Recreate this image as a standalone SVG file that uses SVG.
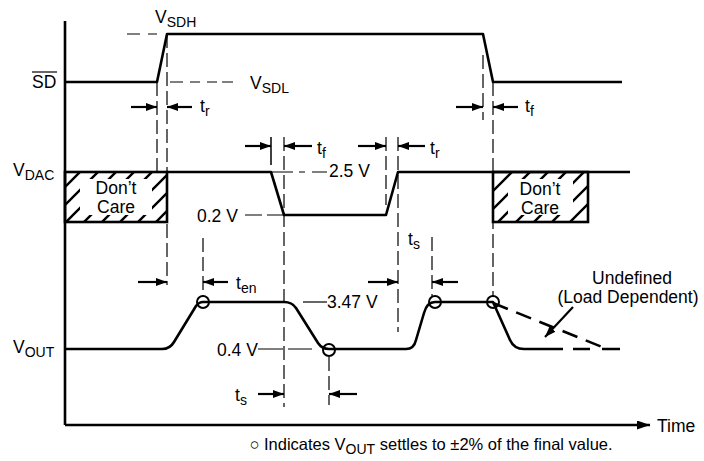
<svg xmlns="http://www.w3.org/2000/svg" width="704" height="461" viewBox="0 0 704 461">
<style>
text{font-family:"Liberation Sans",Arial,Helvetica,sans-serif;font-size:17.5px;fill:#000}
.sub{font-size:14px}
.cap{font-size:16.5px}
.sig{fill:none;stroke:#000;stroke-width:2.6;stroke-linejoin:round}
.axis{fill:none;stroke:#000;stroke-width:2.6}
.vd{fill:none;stroke:#000;stroke-width:1.2;stroke-dasharray:14 5}
.hd{fill:none;stroke:#000;stroke-width:1.2}
.arr{fill:none;stroke:#000;stroke-width:2.2;marker-end:url(#ah)}
.circ{fill:none;stroke:#000;stroke-width:2}
.box{stroke:#000;stroke-width:2.6}
</style>
<defs>
<marker id="ah" markerUnits="userSpaceOnUse" markerWidth="11" markerHeight="8" refX="11" refY="4" orient="auto">
<path d="M0,0 L11,4 L0,8 z" fill="#000"/>
</marker>
<marker id="ah2" markerUnits="userSpaceOnUse" markerWidth="13" markerHeight="9" refX="13" refY="4.5" orient="auto">
<path d="M0,0 L13,4.5 L0,9 z" fill="#000"/>
</marker>
<pattern id="hatch" patternUnits="userSpaceOnUse" width="18" height="18">
<path d="M-4.5,4.5 L4.5,-4.5 M0,18 L18,0 M13.5,22.5 L22.5,13.5" stroke="#000" stroke-width="2.4"/>
</pattern>
</defs>

<g id="axes">
<line class="axis" x1="65" y1="21" x2="65" y2="425"/>
<line x1="65" y1="425" x2="650" y2="425" stroke="#000" stroke-width="2.6" marker-end="url(#ah2)"/>
<text x="657" y="432">Time</text>
</g>

<g id="sd-signal">
<line x1="32" y1="72" x2="57" y2="72" stroke="#000" stroke-width="1.2"/>
<text x="32" y="88">SD</text>
<path class="sig" d="M65,82 H157 L167,34 H483 L493,82 H622"/>
<text x="155" y="23">V<tspan class="sub" dy="4">SDH</tspan></text>
<text x="250" y="89">V<tspan class="sub" dy="4">SDL</tspan></text>
</g>

<g id="vdac-signal">
<text x="13" y="176">V<tspan class="sub" dy="4">DAC</tspan></text>
<path class="sig" d="M167,172 H271 L284,215 H386 L398,172 H630"/>
</g>

<g id="dontcare-left">
<rect x="65" y="172" width="102" height="50" fill="url(#hatch)"/>
<rect x="80" y="179" width="72" height="36" fill="#fff"/>
<rect class="box" x="65" y="172" width="102" height="50" fill="none"/>
<text x="116" y="194" text-anchor="middle">Don’t</text>
<text x="116" y="213" text-anchor="middle">Care</text>
</g>

<g id="dontcare-right">
<rect x="493" y="172" width="95" height="50" fill="url(#hatch)"/>
<rect x="508" y="179" width="65" height="36" fill="#fff"/>
<rect class="box" x="493" y="172" width="95" height="50" fill="none"/>
<text x="540" y="195" text-anchor="middle">Don’t</text>
<text x="540" y="214" text-anchor="middle">Care</text>
</g>

<g id="vout-signal">
<text x="13" y="353">V<tspan class="sub" dy="4">OUT</tspan></text>
<path class="sig" d="M65,349 H162 Q170,349 174,342 L196,306 Q199,302 203,302 H284 Q292,302 296,308 L318,343 Q322,349 329,349 H406 Q414,349 416,340 L424,313 Q427,302 435,302 H493 L510,340 Q514,349 524,349 H563"/>
<path d="M573,349 H590 M602,349 H620" stroke="#000" stroke-width="2.6" fill="none"/>
<line x1="493" y1="303" x2="607" y2="349" stroke="#000" stroke-width="2.6" stroke-dasharray="16 9"/>
<circle class="circ" cx="203" cy="302" r="6"/>
<circle class="circ" cx="329" cy="350" r="6"/>
<circle class="circ" cx="435" cy="302" r="6"/>
<circle class="circ" cx="493" cy="302" r="6"/>
<text x="632" y="284" text-anchor="middle">Undefined</text>
<text x="628" y="303" text-anchor="middle">(Load Dependent)</text>
</g>

<g id="connectors">
<line class="vd" x1="157" y1="82" x2="157" y2="172"/>
<line class="vd" x1="167" y1="34" x2="167" y2="285"/>
<line class="vd" x1="483" y1="55" x2="483" y2="120"/>
<line class="vd" x1="493" y1="82" x2="493" y2="296"/>
<line class="vd" x1="284" y1="137" x2="284" y2="407"/>
<line class="vd" x1="386" y1="137" x2="386" y2="205"/>
<line class="vd" x1="398" y1="137" x2="398" y2="332"/>
<line class="vd" x1="432" y1="237" x2="432" y2="296"/>
<line class="vd" x1="203" y1="238" x2="203" y2="296"/>
<line class="vd" x1="329" y1="357" x2="329" y2="405"/>
<line x1="271" y1="137" x2="271" y2="165" stroke="#000" stroke-width="1.5"/>

<path class="hd" d="M127,34 H140 M148,34 H157"/>
<path class="hd" d="M170,82 H183 M190,82 H200 M207,82 H217 M222,82 H233"/>
<path class="hd" d="M271,172 H293 M299,172 H305 M312,172 H327"/>
<path class="hd" d="M245,215 H262 M267,215 H284"/>
<path class="hd" d="M303,302 H327"/>
<path class="hd" d="M258,349 H283 M288,349 H312"/>

<line class="arr" x1="131" y1="107" x2="157" y2="107"/>
<line class="arr" x1="192" y1="107" x2="167" y2="107"/>
<line class="arr" x1="456" y1="107" x2="483" y2="107"/>
<line class="arr" x1="518" y1="107" x2="493" y2="107"/>
<line class="arr" x1="245" y1="146" x2="271" y2="146"/>
<line class="arr" x1="312" y1="146" x2="284" y2="146"/>
<line class="arr" x1="358" y1="146" x2="386" y2="146"/>
<line class="arr" x1="425" y1="146" x2="398" y2="146"/>
<line class="arr" x1="138" y1="282" x2="167" y2="282"/>
<line class="arr" x1="228" y1="282" x2="203" y2="282"/>
<line class="arr" x1="368" y1="282" x2="398" y2="282"/>
<line class="arr" x1="458" y1="282" x2="432" y2="282"/>
<line class="arr" x1="258" y1="394" x2="284" y2="394"/>
<line class="arr" x1="357" y1="394" x2="329" y2="394"/>
<line class="arr" x1="573" y1="307" x2="545" y2="337"/>
</g>

<g id="labels">
<text x="200" y="112">t<tspan class="sub" dy="4">r</tspan></text>
<text x="525" y="112">t<tspan class="sub" dy="4">f</tspan></text>
<text x="317" y="154">t<tspan class="sub" dy="4">f</tspan></text>
<text x="430" y="154">t<tspan class="sub" dy="4">r</tspan></text>
<text x="408" y="245">t<tspan class="sub" dy="4">s</tspan></text>
<text x="236" y="289">t<tspan class="sub" dy="4">en</tspan></text>
<text x="235" y="401">t<tspan class="sub" dy="4">s</tspan></text>
<text x="329" y="177">2.5 V</text>
<text x="197" y="222">0.2 V</text>
<text x="327" y="308">3.47 V</text>
<text x="217" y="356">0.4 V</text>
</g>

<g id="caption">
<text class="cap" x="431" y="450" text-anchor="middle">○ Indicates V<tspan class="sub" dy="4">OUT</tspan><tspan dy="-4"> settles to ±2% of the final value.</tspan></text>
</g>
</svg>
